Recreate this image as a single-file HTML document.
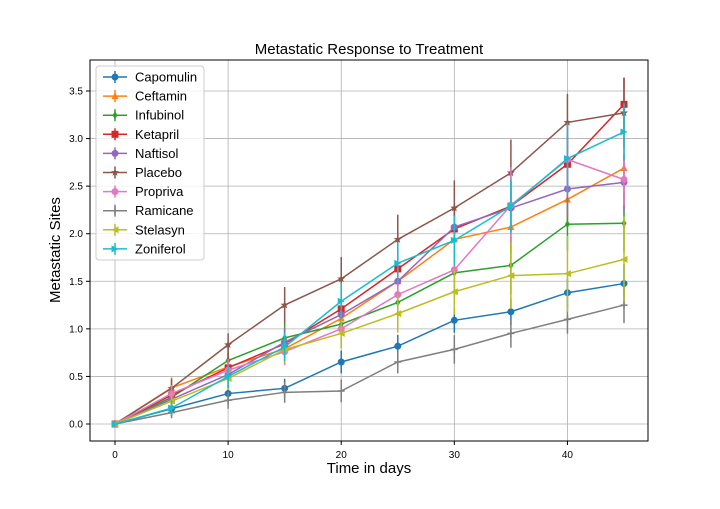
<!DOCTYPE html>
<html><head><meta charset="utf-8"><style>
body{margin:0;background:#fff;}
svg text{font-family:"Liberation Sans","DejaVu Sans",sans-serif;}
</style></head><body>
<svg id="chart" width="720" height="504" xmlns="http://www.w3.org/2000/svg">
<rect width="720" height="504" fill="#fff"/>
<g id="grid"></g>
<g id="series"></g>
<rect x="90" y="60" width="558" height="381" fill="none" stroke="#000" stroke-width="1"/>
<g id="ticks"></g>
<text x="369" y="54" font-size="15" text-anchor="middle">Metastatic Response to Treatment</text>
<text x="369" y="473" font-size="15" text-anchor="middle">Time in days</text>
<text x="60" y="250" font-size="15" text-anchor="middle" transform="rotate(-90 60 250)">Metastatic Sites</text>
<g id="legend"></g>
</svg>
<script>
const times=[0,5,10,15,20,25,30,35,40,45];
const drugs=["Capomulin","Ceftamin","Infubinol","Ketapril","Naftisol","Placebo","Propriva","Ramicane","Stelasyn","Zoniferol"];
const capomulin=[0,0.16,0.32,0.375,0.652,0.818,1.09,1.18,1.38,1.476];
const ceftamin=[0,0.38,0.6,0.79,1.11,1.5,1.94,2.07,2.36,2.69];
const infubinol=[0,0.28,0.667,0.905,1.05,1.278,1.588,1.667,2.1,2.11];
const ketapril=[0,0.304,0.591,0.842,1.21,1.63,2.05,2.29,2.73,3.36];
const naftisol=[0,0.26,0.52,0.86,1.15,1.5,2.07,2.27,2.47,2.54];
const placebo=[0,0.375,0.833,1.25,1.526,1.94,2.27,2.64,3.17,3.27];
const propriva=[0,0.32,0.565,0.76,1.0,1.36,1.62,2.3,2.78,2.57];
const ramicane=[0,0.12,0.25,0.333,0.347,0.652,0.784,0.952,1.1,1.25];
const stelasyn=[0,0.24,0.478,0.782,0.952,1.16,1.39,1.56,1.58,1.73];
const zoniferol=[0,0.167,0.5,0.81,1.29,1.69,1.93,2.29,2.79,3.07];
const errCapomulin=[0,0.07,0.09,0.1,0.12,0.12,0.13,0.14,0.15,0.2];
const errCeftamin=[0,0.11,0.15,0.16,0.18,0.2,0.24,0.28,0.29,0.32];
const errInfubinol=[0,0.09,0.15,0.16,0.17,0.2,0.25,0.3,0.28,0.3];
const errKetapril=[0,0.1,0.12,0.15,0.18,0.2,0.22,0.26,0.3,0.28];
const errNaftisol=[0,0.09,0.14,0.15,0.19,0.22,0.25,0.28,0.3,0.3];
const errPlacebo=[0,0.1,0.12,0.19,0.23,0.26,0.29,0.35,0.3,0.37];
const errPropriva=[0,0.09,0.12,0.14,0.2,0.26,0.28,0.4,0.35,0.27];
const errRamicane=[0,0.06,0.09,0.11,0.12,0.12,0.15,0.15,0.15,0.19];
const errStelasyn=[0,0.09,0.12,0.15,0.16,0.2,0.24,0.35,0.4,0.45];
const errZoniferol=[0,0.08,0.12,0.15,0.19,0.22,0.26,0.28,0.37,0.3];
const xTicks=[0,10,20,30,40];
const yTicks=[0,0.5,1,1.5,2,2.5,3,3.5];
const allVals=[capomulin,ceftamin,infubinol,ketapril,naftisol,placebo,propriva,ramicane,stelasyn,zoniferol];
const allErr=[errCapomulin,errCeftamin,errInfubinol,errKetapril,errNaftisol,errPlacebo,errPropriva,errRamicane,errStelasyn,errZoniferol];
const colors=["#1f77b4","#ff7f0e","#2ca02c","#d62728","#9467bd","#8c564b","#e377c2","#7f7f7f","#bcbd22","#17becf"];
const markers=["circle","tri","diamond","square","circle","star","circle","plus","tril","trir"];
const NS="http://www.w3.org/2000/svg";
function X(v){return 115+v*(509/45);}
function Y(v){return 424-v*(333/3.5);}
function mk(tag,attrs,parent){const e=document.createElementNS(NS,tag);for(const k in attrs)e.setAttribute(k,attrs[k]);parent.appendChild(e);return e;}
const grid=document.getElementById('grid'),ticks=document.getElementById('ticks'),ser=document.getElementById('series'),leg=document.getElementById('legend');
xTicks.forEach(t=>{
  const l=mk('line',{x1:X(t),x2:X(t),y1:60,y2:441,stroke:'#b0b0b0','stroke-width':0.8},grid);
  
  
  mk('line',{x1:X(t),x2:X(t),y1:441,y2:445,stroke:'#000'},ticks);
  const tx=mk('text',{x:X(t),y:458,'font-size':10,'text-anchor':'middle'},ticks);tx.textContent=t;
  
  
});
yTicks.forEach(t=>{
  const l=mk('line',{x1:90,x2:648,y1:Y(t),y2:Y(t),stroke:'#b0b0b0','stroke-width':0.8},grid);
  
  
  mk('line',{x1:86,x2:90,y1:Y(t),y2:Y(t),stroke:'#000'},ticks);
  const tx=mk('text',{x:83,y:Y(t)+3.5,'font-size':10,'text-anchor':'end'},ticks);tx.textContent=t.toFixed(1);
  
  
});
function marker(type,x,y,c,p){
  const s=3.5;let e;
  if(type==='circle')e=mk('circle',{cx:x,cy:y,r:s,fill:c},p);
  else if(type==='square')e=mk('rect',{x:x-s,y:y-s,width:2*s,height:2*s,fill:c},p);
  else if(type==='tri')e=mk('polygon',{points:`${x},${y-s-0.5} ${x+s},${y+s-0.5} ${x-s},${y+s-0.5}`,fill:c},p);
  else if(type==='tril')e=mk('polygon',{points:`${x-s},${y} ${x+s},${y-s} ${x+s},${y+s}`,fill:c},p);
  else if(type==='trir')e=mk('polygon',{points:`${x+s},${y} ${x-s},${y-s} ${x-s},${y+s}`,fill:c},p);
  else if(type==='diamond')e=mk('polygon',{points:`${x},${y-s-0.5} ${x+s-1},${y} ${x},${y+s+0.5} ${x-s+1},${y}`,fill:c},p);
  else if(type==='plus')e=mk('path',{d:`M${x-s} ${y}H${x+s}M${x} ${y-s}V${y+s}`,stroke:c,'stroke-width':1.5},p);
  else {let pts=[];for(let i=0;i<10;i++){const r=i%2?1.8:4.2,a=-Math.PI/2+i*Math.PI/5;pts.push((x+r*Math.cos(a))+','+(y+r*Math.sin(a)));}e=mk('polygon',{points:pts.join(' '),fill:c},p);}
  
  
}
drugs.forEach((d,i)=>{
  const g=mk('g',{},ser);
  
  
  const vals=allVals[i],err=allErr[i],c=colors[i];
  vals.forEach((v,j)=>{
    const eb=mk('line',{x1:X(times[j]),x2:X(times[j]),y1:Y(v-err[j]),y2:Y(v+err[j]),stroke:c,'stroke-width':1.5},g);
    
    
  });
  const ln=mk('polyline',{points:vals.map((v,j)=>X(times[j])+','+Y(v)).join(' '),fill:'none',stroke:c,'stroke-width':1.5},g);
  
  
  vals.forEach((v,j)=>marker(markers[i],X(times[j]),Y(v),c,g));
});
const lb=mk('rect',{x:96,y:66,width:108,height:194,rx:3,fill:'#fff','fill-opacity':0.8,stroke:'#ccc'},leg);


drugs.forEach((d,i)=>{
  const y=77+i*19.1;
  const g=mk('g',{},leg);
  
  
  mk('line',{x1:103,x2:127,y1:y,y2:y,stroke:colors[i],'stroke-width':1.5},g);
  mk('line',{x1:115,x2:115,y1:y-6,y2:y+6,stroke:colors[i],'stroke-width':1.5},g);
  marker(markers[i],115,y,colors[i],g);
  const t=mk('text',{x:135,y:y+4.5,'font-size':13},g);t.textContent=d;
});
</script>
</body></html>
